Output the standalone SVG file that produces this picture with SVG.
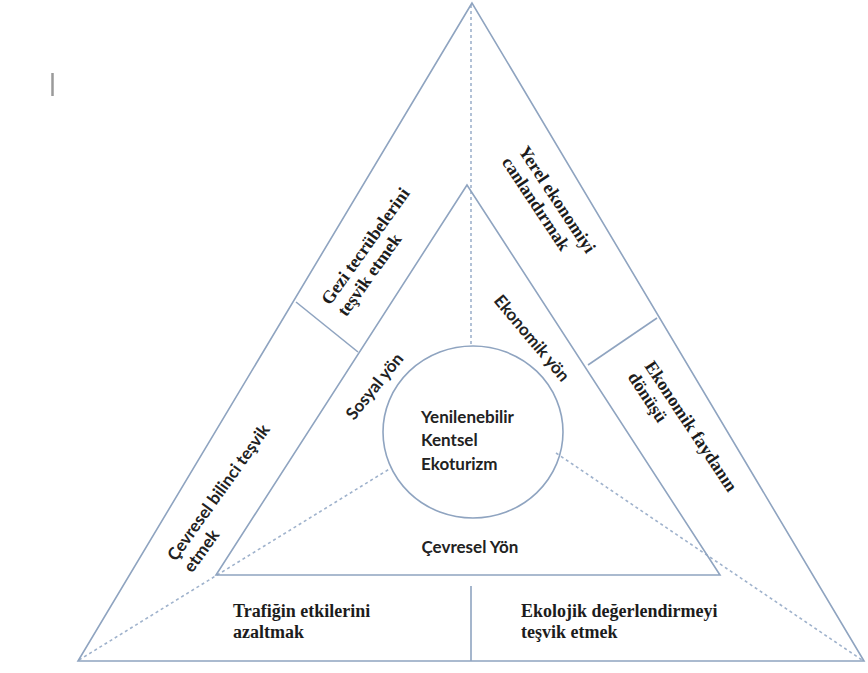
<svg xmlns="http://www.w3.org/2000/svg" width="868" height="673" viewBox="0 0 868 673">
<style>
.ln{fill:none;stroke:#8fa4c0;stroke-width:1.6}
.ds{fill:none;stroke:#9fb2cc;stroke-width:1.6;stroke-dasharray:3 3}
.sf{font-family:"Liberation Serif","Times New Roman",serif;font-weight:700;font-size:18px;fill:#1c1c1c}
.ss{font-family:Lato,"Liberation Sans",sans-serif;font-weight:700;font-size:17px;fill:#222}
</style>
<rect width="868" height="673" fill="#ffffff"/>
<line x1="52.5" y1="73" x2="52.5" y2="96" stroke="#9a9a9a" stroke-width="2.5"/>
<g id="connectors">
<line class="ds" x1="471" y1="5" x2="471" y2="346"/>
<line class="ds" x1="79" y1="660" x2="391" y2="468"/>
<line class="ds" x1="556" y1="453" x2="862" y2="660"/>
<line class="ln" x1="296" y1="302" x2="358" y2="352"/>
<line class="ln" x1="588" y1="365" x2="657" y2="318"/>
<line class="ln" x1="471" y1="586" x2="471" y2="661"/>
</g>
<g id="outer-triangle"><polygon class="ln" points="472,3 78,661 864,661"/></g>
<g id="inner-triangle"><polygon class="ln" points="467,185 216,575 720,575"/></g>
<g id="center"><ellipse class="ln" cx="473" cy="432" rx="90" ry="86"/>
<text class="ss" font-size="15.5" x="421" y="423">Yenilenebilir</text>
<text class="ss" font-size="15.5" x="421" y="446">Kentsel</text>
<text class="ss" font-size="15.5" x="421" y="470">Ekoturizm</text>
</g>
<g id="gezi"><g transform="translate(330,306) rotate(-54.5)"><text class="sf" x="0" y="0">Gezi tecrübelerini</text><text class="sf" x="0" y="20">teşvik etmek</text></g></g>
<g id="yerel"><g transform="translate(518,151) rotate(56.5)"><text class="sf" x="0" y="0">Yerel ekonomiyi</text><text class="sf" x="0" y="20">canlandırmak</text></g></g>
<g id="fayda"><g transform="translate(644,366) rotate(56.5)"><text class="sf" x="0" y="0">Ekonomik faydanın</text><text class="sf" x="0" y="20">dönüşü</text></g></g>
<g id="cevre-bilinc"><g transform="translate(176,562) rotate(-54.5)"><text class="ss" x="0" y="0">Çevresel bilinci teşvik</text><text class="ss" x="0" y="20">etmek</text></g></g>
<g id="sosyal"><g transform="translate(354,421) rotate(-51)"><text class="ss" x="0" y="0">Sosyal yön</text></g></g>
<g id="ekonomik"><g transform="translate(493,301) rotate(50)"><text class="ss" font-size="16.5" x="0" y="0">Ekonomik yön</text></g></g>
<g id="cevresel-yon"><text class="ss" font-size="13.5" x="470" y="553" text-anchor="middle">Çevresel Yön</text></g>
<g id="trafik"><text class="sf" x="233" y="617">Trafiğin etkilerini</text><text class="sf" x="233" y="638">azaltmak</text></g>
<g id="ekolojik"><text class="sf" x="521" y="617">Ekolojik değerlendirmeyi</text><text class="sf" x="521" y="638">teşvik etmek</text></g>
</svg>
